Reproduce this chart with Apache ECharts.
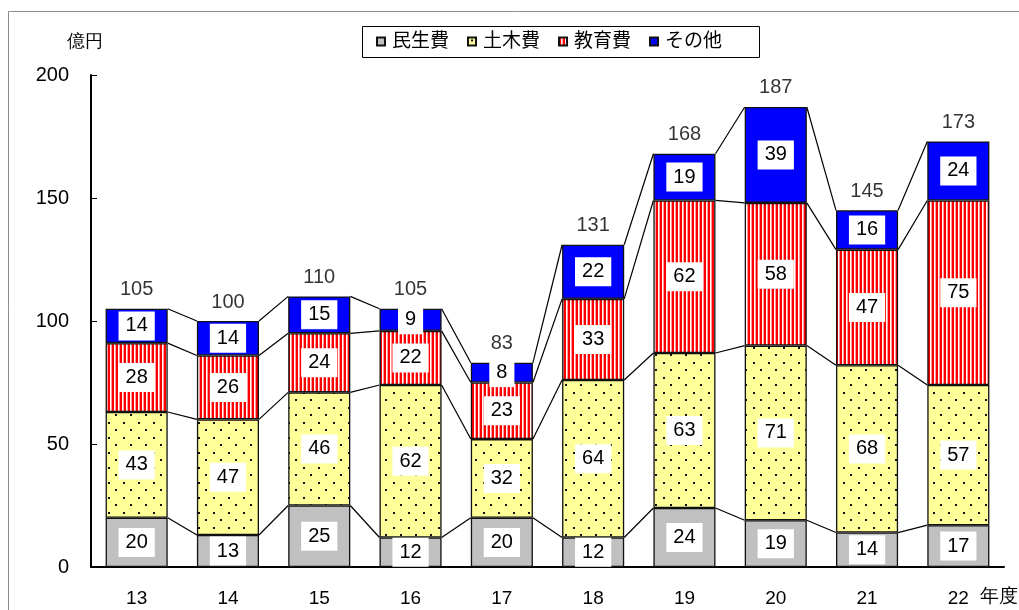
<!DOCTYPE html>
<html>
<head>
<meta charset="utf-8">
<title>費目別歳出の推移</title>
<script src="https://cdn.jsdelivr.net/npm/echarts@6/dist/echarts.min.js"></script>
<style>
  html, body { margin: 0; padding: 0; background: #fff; }
  #chart { width: 1019px; height: 610px; }
</style>
</head>
<body>
<div id="chart"></div>
<script>
// 年度
const years = ['13', '14', '15', '16', '17', '18', '19', '20', '21', '22'];
// 費目別の金額（億円）
const minsei  = [20, 13, 25, 12, 20, 12, 24, 19, 14, 17];   // 民生費
const doboku  = [43, 47, 46, 62, 32, 64, 63, 71, 68, 57];   // 土木費
const kyoiku  = [28, 26, 24, 22, 23, 33, 62, 58, 47, 75];   // 教育費
const sonota  = [14, 14, 15, 9, 8, 22, 19, 39, 16, 24];     // その他
const yTicks = [0, 50, 100, 150, 200];

const FONT = '"Liberation Sans", Arial, "Noto Sans CJK JP", sans-serif';

// 積み上げの各境界（累計）
const layers = [minsei, doboku, kyoiku, sonota];
const cumulative = [];
let run = years.map(() => 0);
layers.forEach(arr => {
  run = run.map((v, i) => v + arr[i]);
  cumulative.push(run.slice());
});
const totals = cumulative[cumulative.length - 1];

// 塗りパターン
function makeTile(w, h, draw) {
  const c = document.createElement('canvas');
  c.width = w; c.height = h;
  draw(c.getContext('2d'));
  return { image: c, repeat: 'repeat' };
}
const dotFill = makeTile(15, 15, ctx => {
  ctx.fillStyle = '#ffff99';
  ctx.fillRect(0, 0, 15, 15);
  ctx.fillStyle = '#111';
  ctx.fillRect(3, 2, 2, 2);
  ctx.fillRect(10, 9, 2, 2);
});
const stripeFill = makeTile(4, 4, ctx => {
  ctx.fillStyle = '#ffffff';
  ctx.fillRect(0, 0, 4, 4);
  ctx.fillStyle = '#ff0000';
  ctx.fillRect(0, 0, 2, 4);
  ctx.fillStyle = '#ff9a9a';
  ctx.fillRect(3, 0, 1, 4);
});

const barLabel = {
  show: true,
  position: 'inside',
  formatter: '{c}',
  color: '#000',
  fontSize: 20,
  fontFamily: FONT,
  backgroundColor: '#fff',
  padding: [5, 7, 4, 7],
  lineHeight: 20
};

function barSeries(name, data, fill) {
  return {
    name: name,
    type: 'bar',
    stack: 'total',
    barWidth: '68%',
    data: data,
    itemStyle: { color: fill, borderColor: '#111', borderWidth: 1.3 },
    label: barLabel,
    z: 2
  };
}

// 隣り合う棒の境界をつなぐ線
const connectors = {
  type: 'custom',
  name: 'connectors',
  data: years.slice(0, -1).map((y, i) => [i, totals[i]]),
  encode: { x: 0, y: 1 },
  z: 3,
  silent: true,
  renderItem: function (params, api) {
    const i = api.value(0);
    const band = api.size([1, 0])[0];
    const half = band * 0.68 / 2;
    const children = cumulative.map(level => {
      const p1 = api.coord([i, level[i]]);
      const p2 = api.coord([i + 1, level[i + 1]]);
      return {
        type: 'line',
        shape: { x1: p1[0] + half, y1: p1[1], x2: p2[0] - half, y2: p2[1] },
        style: { stroke: '#000', lineWidth: 1.2 }
      };
    });
    return { type: 'group', children: children };
  }
};

// 合計値（棒の上）
const totalLabels = {
  type: 'scatter',
  name: 'total',
  data: totals,
  symbolSize: 0,
  silent: true,
  label: {
    show: true,
    position: 'top',
    distance: 9,
    formatter: '{c}',
    color: '#000',
    fontSize: 20,
    fontFamily: FONT
  },
  z: 4
};

const chart = echarts.init(document.getElementById('chart'), null, { renderer: 'canvas' });
chart.setOption({
  animation: false,
  backgroundColor: '#fff',
  textStyle: { fontFamily: FONT },
  grid: { left: 91, right: 15, top: 75, bottom: 43, containLabel: false },
  legend: {
    data: ['民生費', '土木費', '教育費', 'その他'],
    left: 376,
    top: 32,
    padding: 0,
    itemWidth: 8,
    itemHeight: 8,
    itemGap: 18,
    icon: 'rect',
    selectedMode: false,
    textStyle: { fontSize: 19, color: '#000', fontFamily: FONT, padding: [0, 0, 0, 2] }
  },
  xAxis: {
    type: 'category',
    data: years,
    axisLine: { lineStyle: { color: '#000', width: 2 } },
    axisTick: { inside: true, length: 6, lineStyle: { color: '#000' } },
    axisLabel: { color: '#000', fontSize: 19, margin: 22, fontFamily: FONT }
  },
  yAxis: {
    type: 'value',
    min: yTicks[0],
    max: yTicks[yTicks.length - 1],
    interval: yTicks[1] - yTicks[0],
    splitLine: { show: false },
    axisLine: { show: true, lineStyle: { color: '#000', width: 2 } },
    axisTick: { show: true, inside: true, length: 6, lineStyle: { color: '#000' } },
    axisLabel: { color: '#000', fontSize: 20, margin: 22, fontFamily: FONT }
  },
  graphic: [
    {
      type: 'rect', silent: true, z: -10,
      shape: { x: 8.5, y: 11.5, width: 1100, height: 700 },
      style: { fill: null, stroke: '#8c8c8c', lineWidth: 1 }
    },
    {
      type: 'rect', silent: true,
      shape: { x: 362.5, y: 26.5, width: 397, height: 31 },
      style: { fill: null, stroke: '#000', lineWidth: 1 }
    },
    {
      type: 'text', silent: true, left: 67, top: 33,
      style: { text: '億円', fontSize: 18, fill: '#000', font: '18px "Noto Sans CJK JP", sans-serif' }
    },
    {
      type: 'text', silent: true, left: 980, top: 587,
      style: { text: '年度', fontSize: 19, fill: '#000', font: '19px "Noto Sans CJK JP", sans-serif' }
    }
  ],
  series: [
    barSeries('民生費', minsei, '#c0c0c0'),
    barSeries('土木費', doboku, dotFill),
    barSeries('教育費', kyoiku, stripeFill),
    barSeries('その他', sonota, '#0000ff'),
    connectors,
    totalLabels
  ]
});
</script>
</body>
</html>
